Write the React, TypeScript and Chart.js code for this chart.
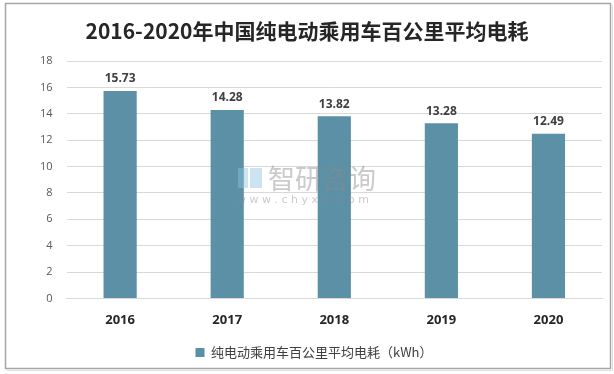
import React, { useEffect, useRef } from "react";
import { Chart, registerables } from "chart.js";

Chart.register(...registerables);

const categories = ["2016", "2017", "2018", "2019", "2020"];
const values = [15.73, 14.28, 13.82, 13.28, 12.49];
const seriesName = "纯电动乘用车百公里平均电耗（kWh）";
const titleText = "2016-2020年中国纯电动乘用车百公里平均电耗";

const CJK = "'Noto Sans CJK SC', 'Open Sans', sans-serif";

const dataLabelPlugin = {
  id: "dataLabels",
  afterDatasetsDraw(chart: any) {
    const ctx = chart.ctx;
    const meta = chart.getDatasetMeta(0);
    ctx.save();
    ctx.font = `bold 12px 'Open Sans', 'Liberation Sans', sans-serif`;
    ctx.fillStyle = "#404040";
    ctx.textAlign = "center";
    ctx.textBaseline = "bottom";
    meta.data.forEach((bar: any, i: number) => {
      ctx.fillText(values[i].toFixed(2), bar.x, bar.y - 6);
    });
    ctx.restore();
  },
};

const frameAndMark = {
  id: "frameAndMark",
  beforeDraw(chart: any) {
    const ctx = chart.ctx;
    ctx.save();
    ctx.fillStyle = "#ffffff";
    ctx.fillRect(0, 0, chart.width, chart.height);
    ctx.restore();
  },
  afterDraw(chart: any) {
    const ctx = chart.ctx;
    ctx.save();
    ctx.strokeStyle = "#a6a6a6";
    ctx.lineWidth = 1.5;
    ctx.strokeRect(5.5, 3.5, 605, 365);
    ctx.strokeStyle = "rgba(0,0,0,0.12)";
    ctx.lineWidth = 1;
    ctx.beginPath();
    ctx.moveTo(612.5, 5);
    ctx.lineTo(612.5, 370.5);
    ctx.lineTo(7, 370.5);
    ctx.stroke();
    // title
    ctx.fillStyle = "#262626";
    ctx.font = `bold 21px ${CJK}`;
    ctx.textAlign = "center";
    ctx.textBaseline = "middle";
    ctx.fillText(titleText, 307, 31);
    // watermark
    ctx.globalAlpha = 0.45;
    ctx.fillStyle = "#8fc1e3";
    ctx.fillRect(238, 168, 10, 20);
    ctx.fillRect(250, 168, 12, 20);
    ctx.fillStyle = "#8a8a8a";
    ctx.font = `27px ${CJK}`;
    ctx.textBaseline = "middle";
    ctx.textAlign = "left";
    ctx.fillText("智研咨询", 268, 179);
    ctx.font = `11px 'DejaVu Sans', sans-serif`;
    ctx.fillText("w w w . c h y x x . c o m", 237, 200);
    ctx.restore();
  },
};

export default function App() {
  const ref = useRef<HTMLCanvasElement | null>(null);
  useEffect(() => {
    document.body.style.margin = "0";
    const chart = new Chart(ref.current as HTMLCanvasElement, {
      type: "bar",
      data: {
        labels: categories,
        datasets: [
          {
            label: seriesName,
            data: values,
            backgroundColor: "#5b90a6",
            categoryPercentage: 1,
            barPercentage: 0.31,
          },
        ],
      },
      options: {
        animation: false,
        responsive: false,
        maintainAspectRatio: false,
        layout: { padding: { left: 26, right: 12, top: 61, bottom: 5 } },
        plugins: {
          title: { display: false },
          legend: {
            position: "bottom",
            labels: {
              boxWidth: 9,
              boxHeight: 9,
              color: "#404040",
              font: { family: CJK, size: 13 },
              padding: 12,
            },
          },
          tooltip: { enabled: false },
        },
        scales: {
          x: {
            grid: { display: false },
            border: { display: true, color: "#d9d9d9" },
            ticks: {
              color: "#262626",
              font: { family: "'Open Sans', sans-serif", size: 13, weight: "bold" },
              padding: 6,
            },
          },
          y: {
            min: 0,
            max: 18,
            ticks: {
              stepSize: 2,
              color: "#595959",
              font: { family: "'Open Sans', sans-serif", size: 11 },
              padding: 14,
            },
            grid: { color: "#d9d9d9", drawTicks: false },
            border: { display: false },
          },
        },
      },
      plugins: [frameAndMark, dataLabelPlugin],
    });
    return () => chart.destroy();
  }, []);
  return <canvas ref={ref} width={614} height={374} style={{ display: "block" }} />;
}
